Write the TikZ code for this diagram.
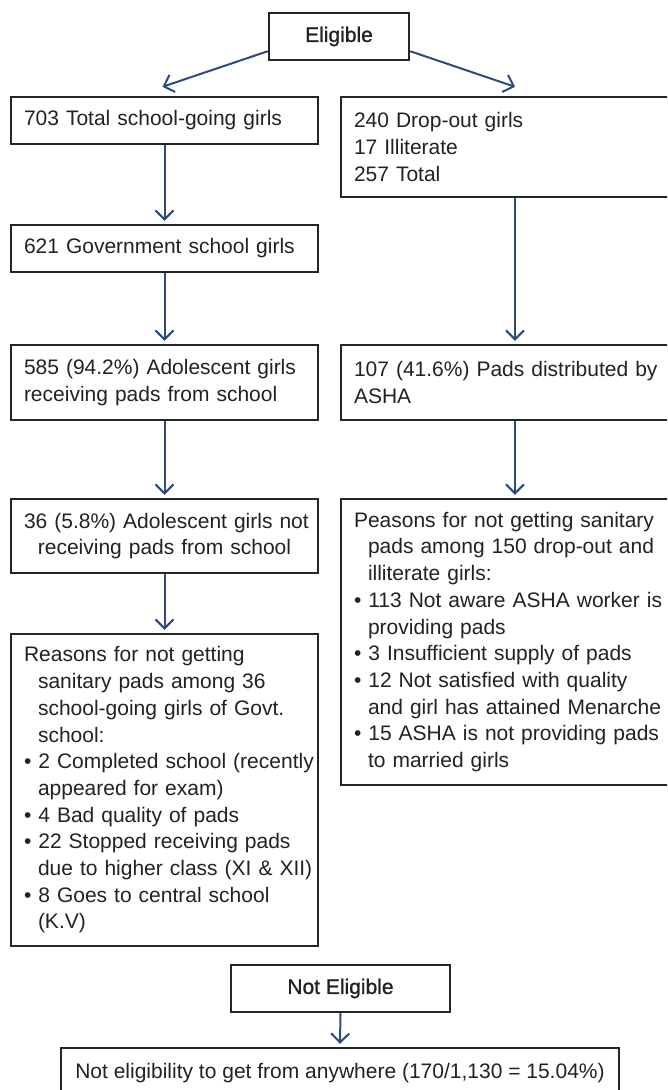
\documentclass[tikz,border=0pt]{standalone}
\usepackage{fontspec}
\setmainfont{Liberation Sans}
\newfontfamily\medf[FakeBold=1]{Liberation Sans}
\usetikzlibrary{arrows.meta}
\definecolor{boxc}{HTML}{262626}
\definecolor{arrc}{HTML}{2C4A7B}
\definecolor{txtc}{HTML}{222222}
\newcommand{\fs}{\fontsize{21}{26.7}\selectfont}
\newcommand{\ml}[1]{\mbox{#1}}
\newcommand{\ind}{\hspace*{14pt}}
\newcommand{\bul}{\textbullet\ }
\begin{document}
\begin{tikzpicture}[x=1pt,y=-1pt,
  box/.style={draw=boxc, line width=2.4pt, inner xsep=13pt, inner ysep=0pt, font=\fs, text=txtc},
  lbox/.style={box, align=left, text width=281pt},
  rbox/.style={box, align=left, text width=322pt},
  tbox/.style={box, font=\medf\fs},
  arr/.style={draw=arrc, line width=2pt, -{Straight Barb[length=9pt,width=18pt,line width=2pt]}}]
\path[use as bounding box, clip] (0,0) rectangle (667,1090);
\fill[white] (0,0) rectangle (667,1090);

\node[tbox, minimum width=140pt, minimum height=47pt] (elig) at (339,36.5) {Eligible};

\node[lbox, minimum height=47pt] (b1) at (164.5,120.5) {703 Total school-going girls};
\node[rbox, minimum height=100pt] (rb1) at (515,147) {240 Drop-out girls\\17 Illiterate\\257 Total};
\node[lbox, minimum height=47pt] (b2) at (164.5,248.5) {621 Government school girls};
\node[lbox, minimum height=75pt] (b3) at (164.5,382.5) {585 (94.2\%) Adolescent girls\\receiving pads from school};
\node[rbox, minimum height=75pt] (rb2) at (515,382.5) {107 (41.6\%) Pads distributed by\\ASHA};
\node[lbox, align=center, minimum height=74pt] (b4) at (164.5,536) {\ml{36 (5.8\%) Adolescent girls not}\\receiving pads from school};
\node[rbox, minimum height=286pt] (rb3) at (515,642) {%
\ml{Peasons for not getting sanitary}\\
\ind\ml{pads among 150 drop-out and}\\
\ind\ml{illiterate girls:}\\
\ml{\bul 113 Not aware ASHA worker is}\\
\ind\ml{providing pads}\\
\ml{\bul 3 Insufficient supply of pads}\\
\ml{\bul 12 Not satisfied with quality}\\
\ind\ml{and girl has attained Menarche}\\
\ml{\bul 15 ASHA is not providing pads}\\
\ind\ml{to married girls}};
\node[lbox, minimum height=312pt] (b5) at (164.5,790) {%
\ml{Reasons for not getting}\\
\ind\ml{sanitary pads among 36}\\
\ind\ml{school-going girls of Govt.}\\
\ind\ml{school:}\\
\ml{\bul 2 Completed school (recently}\\
\ind\ml{appeared for exam)}\\
\ml{\bul 4 Bad quality of pads}\\
\ml{\bul 22 Stopped receiving pads}\\
\ind\ml{due to higher class (XI \& XII)}\\
\ml{\bul 8 Goes to central school}\\
\ind\ml{(K.V)}};

\node[tbox, minimum width=219pt, minimum height=47pt] (ne) at (340.5,988.5) {Not Eligible};
\node[box, minimum width=558pt, minimum height=50pt] (bot) at (340,1073) {Not eligibility to get from anywhere (170/1,130 = 15.04\%)};

\draw[arr] ([yshift=10pt]elig.south west) -- ([xshift=-2pt,yshift=9pt]b1.north);
\draw[arr] ([yshift=10pt]elig.south east) -- ([yshift=9pt]rb1.north);
\draw[arr] (b1.south) -- ([yshift=3pt]b2.north);
\draw[arr] (b2.south) -- ([yshift=3pt]b3.north);
\draw[arr] (b3.south) -- ([yshift=3pt]b4.north);
\draw[arr] (b4.south) -- ([yshift=3pt]b5.north);
\draw[arr] (rb1.south) -- ([yshift=3pt]rb2.north);
\draw[arr] (rb2.south) -- ([yshift=3pt]rb3.north);
\draw[arr] (ne.south) -- ([yshift=3pt]bot.north);
\end{tikzpicture}
\end{document}
